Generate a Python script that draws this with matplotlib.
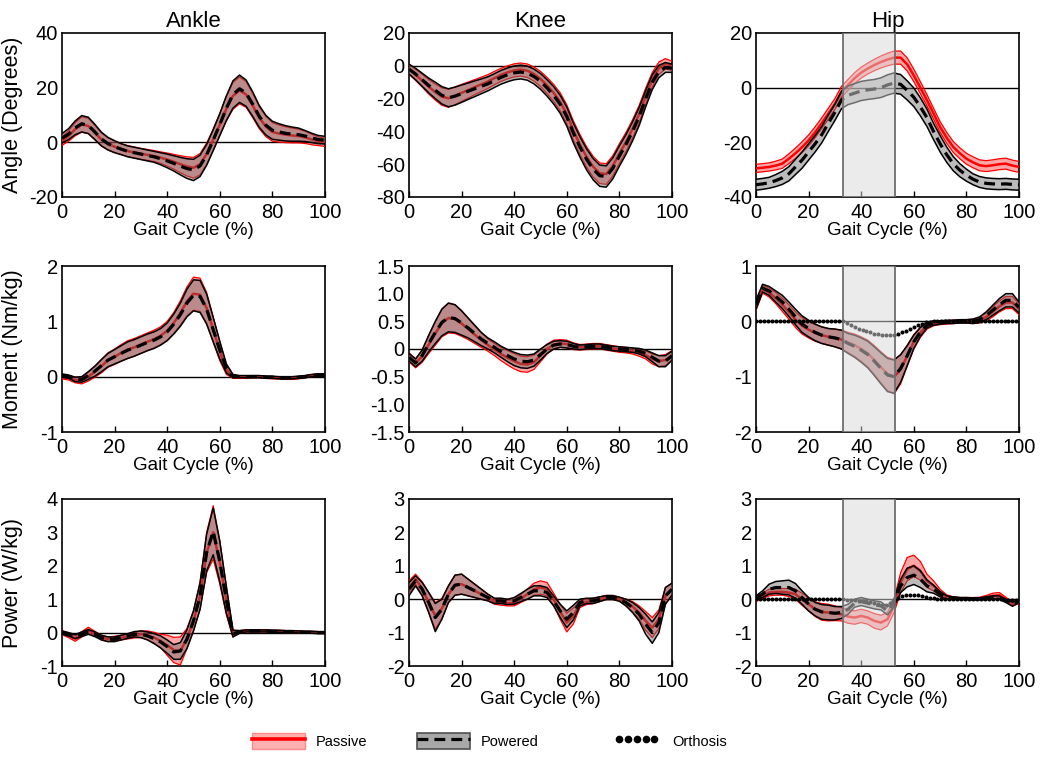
import numpy as np
import matplotlib
matplotlib.use("Agg")
import matplotlib.pyplot as plt
from matplotlib.patches import Patch
from matplotlib.lines import Line2D
from matplotlib.legend_handler import HandlerTuple

plt.rcParams['font.family'] = ['Liberation Sans', 'DejaVu Sans']

# ---------------- data ----------------
GAIT = np.linspace(0, 100, 41)          # % gait cycle, 2.5 % steps
ORTH_GAIT = np.linspace(0, 99, 67)      # orthosis samples, 1.5 % steps

joints = ["Ankle", "Knee", "Hip"]
row_labels = ["Angle (Degrees)", "Moment (Nm/kg)", "Power (W/kg)"]

# ----- Ankle angle -----
ankle_angle_pow_mean = [1.5, 3.0, 5.3, 6.8, 6.2, 3.8, 1.2, -0.5, -1.6, -2.5, -3.3, -3.8, -4.3, -4.8, -5.3, -6.0, -6.8, -7.7, -8.7, -9.6, -10.1, -8.6, -4.6, 0.8, 6.5, 12.5, 17.5, 19.6, 18.0, 14.0, 9.5, 6.3, 4.4, 3.8, 3.3, 3.0, 2.8, 2.3, 1.6, 1.0, 0.8]
ankle_angle_pow_sd = [1.7, 2.0, 2.5, 3.0, 3.0, 2.8, 2.5, 2.3, 2.2, 2.0, 2.0, 2.0, 2.0, 2.0, 2.0, 2.2, 2.5, 2.8, 3.2, 3.6, 3.9, 3.9, 3.8, 3.8, 4.0, 4.5, 5.0, 5.0, 4.8, 4.5, 4.0, 3.6, 3.3, 3.0, 2.8, 2.6, 2.4, 2.0, 1.7, 1.5, 1.4]
ankle_angle_pas_mean = [0.5, 2.3, 4.8, 6.5, 6.0, 3.6, 1.0, -0.6, -1.6, -2.5, -3.2, -3.7, -4.2, -4.6, -5.0, -5.6, -6.3, -7.1, -8.0, -8.8, -9.3, -8.0, -4.2, 1.0, 6.5, 12.3, 17.0, 19.0, 17.5, 13.5, 9.0, 5.8, 3.8, 3.2, 2.8, 2.5, 2.3, 1.8, 1.0, 0.4, 0.0]
ankle_angle_pas_sd = [1.6, 1.9, 2.4, 2.8, 2.8, 2.6, 2.4, 2.2, 2.1, 2.0, 2.0, 2.0, 2.0, 2.0, 2.0, 2.1, 2.4, 2.7, 3.1, 3.5, 3.8, 3.9, 3.9, 3.9, 4.0, 4.5, 4.9, 4.9, 4.7, 4.4, 4.0, 3.7, 3.4, 3.1, 2.9, 2.7, 2.5, 2.2, 1.9, 1.6, 1.5]

# ----- Knee angle -----
knee_angle_pow_mean = [-2.0, -5.0, -8.5, -12.0, -15.0, -18.0, -19.5, -18.5, -17.0, -15.5, -14.0, -12.5, -11.0, -9.0, -7.0, -5.5, -4.3, -3.8, -4.5, -6.5, -9.5, -13.5, -18.0, -23.5, -31.0, -41.0, -49.5, -57.0, -63.0, -67.0, -67.5, -62.5, -55.0, -48.0, -40.0, -31.0, -20.0, -10.0, -3.5, -1.0, -1.5]
knee_angle_pow_sd = [3.0, 3.5, 4.0, 4.5, 5.0, 5.3, 5.5, 5.5, 5.3, 5.0, 4.8, 4.5, 4.3, 4.2, 4.2, 4.2, 4.2, 4.2, 4.3, 4.5, 4.8, 5.0, 5.3, 5.5, 5.8, 6.0, 6.2, 6.4, 6.5, 6.5, 6.5, 6.4, 6.2, 6.0, 5.8, 5.5, 5.0, 4.5, 3.8, 3.0, 2.5]
knee_angle_pas_mean = [-2.0, -5.5, -9.0, -12.8, -16.0, -18.8, -19.8, -18.3, -16.5, -14.8, -13.0, -11.3, -9.6, -7.5, -5.5, -4.0, -2.8, -2.3, -3.0, -5.0, -8.0, -12.0, -16.5, -22.0, -29.5, -39.5, -48.0, -55.5, -61.5, -65.5, -66.0, -61.0, -53.5, -46.5, -38.5, -29.5, -18.5, -8.5, -1.5, 1.2, 0.0]
knee_angle_pas_sd = [3.0, 3.4, 3.9, 4.4, 4.9, 5.3, 5.5, 5.4, 5.2, 4.9, 4.6, 4.4, 4.2, 4.1, 4.0, 4.0, 4.0, 4.0, 4.1, 4.3, 4.6, 4.9, 5.2, 5.5, 5.7, 5.9, 6.1, 6.2, 6.3, 6.3, 6.3, 6.2, 6.0, 5.8, 5.6, 5.3, 4.9, 4.4, 3.8, 3.2, 2.8]

# ----- Hip angle -----
hip_angle_pow_mean = [-35.5, -35.2, -34.8, -34.0, -33.0, -31.5, -29.0, -26.5, -23.5, -20.5, -17.2, -13.0, -9.0, -4.5, -2.8, -2.0, -1.2, -0.8, -0.5, 0.0, 1.0, 1.7, 1.2, -1.0, -3.5, -7.0, -11.0, -16.0, -20.5, -24.5, -27.8, -30.2, -32.0, -33.5, -34.5, -35.0, -35.2, -35.3, -35.2, -35.4, -35.5]
hip_angle_pow_sd = [2.0, 2.0, 2.0, 2.2, 2.4, 2.6, 2.8, 3.0, 3.0, 3.0, 3.0, 3.0, 3.0, 3.2, 3.4, 3.5, 3.5, 3.5, 3.5, 3.6, 3.7, 3.7, 3.6, 3.5, 3.4, 3.3, 3.2, 3.0, 3.0, 2.8, 2.6, 2.4, 2.2, 2.0, 2.0, 2.0, 2.0, 2.0, 2.0, 2.0, 2.0]
hip_angle_pas_mean = [-29.5, -29.3, -29.0, -28.5, -27.8, -26.0, -24.0, -21.8, -19.3, -16.3, -13.0, -9.5, -6.0, -1.5, 1.0, 3.5, 5.5, 7.0, 8.3, 9.4, 10.3, 11.0, 11.0, 8.5, 4.5, 0.0, -4.6, -9.5, -14.4, -18.3, -21.7, -24.0, -26.0, -27.3, -28.4, -28.7, -28.4, -28.0, -27.8, -28.5, -29.0]
hip_angle_pas_sd = [1.5, 1.5, 1.5, 1.6, 1.7, 1.8, 1.9, 2.0, 2.0, 2.0, 2.0, 2.0, 2.0, 2.0, 2.0, 2.0, 2.0, 2.0, 2.1, 2.2, 2.3, 2.4, 2.4, 2.4, 2.3, 2.2, 2.1, 2.0, 2.0, 2.0, 2.0, 2.0, 2.0, 2.0, 2.0, 2.0, 2.0, 2.0, 2.0, 2.0, 2.0]

# ----- Ankle moment -----
ankle_mom_pow_mean = [0.02, 0.0, -0.05, -0.05, 0.02, 0.1, 0.2, 0.3, 0.36, 0.42, 0.48, 0.52, 0.57, 0.62, 0.66, 0.72, 0.81, 0.95, 1.12, 1.33, 1.47, 1.45, 1.22, 0.85, 0.48, 0.15, 0.01, 0.0, 0.0, 0.0, 0.0, -0.01, -0.01, -0.02, -0.02, -0.02, -0.01, 0.0, 0.02, 0.03, 0.03]
ankle_mom_pow_sd = [0.03, 0.03, 0.04, 0.05, 0.07, 0.09, 0.11, 0.12, 0.13, 0.14, 0.15, 0.15, 0.15, 0.15, 0.15, 0.15, 0.16, 0.18, 0.21, 0.25, 0.28, 0.29, 0.27, 0.22, 0.16, 0.08, 0.03, 0.02, 0.02, 0.02, 0.02, 0.02, 0.02, 0.02, 0.02, 0.02, 0.02, 0.02, 0.02, 0.02, 0.02]
ankle_mom_pas_mean = [0.0, -0.02, -0.06, -0.07, 0.0, 0.09, 0.19, 0.3, 0.36, 0.43, 0.49, 0.53, 0.58, 0.63, 0.68, 0.74, 0.83, 0.97, 1.15, 1.36, 1.5, 1.48, 1.24, 0.85, 0.46, 0.13, 0.0, -0.01, -0.01, 0.0, 0.0, -0.01, -0.02, -0.02, -0.03, -0.03, -0.02, 0.0, 0.02, 0.03, 0.03]
ankle_mom_pas_sd = [0.04, 0.04, 0.05, 0.06, 0.08, 0.1, 0.12, 0.13, 0.14, 0.15, 0.16, 0.16, 0.16, 0.16, 0.16, 0.16, 0.17, 0.19, 0.22, 0.26, 0.3, 0.3, 0.28, 0.23, 0.17, 0.09, 0.03, 0.02, 0.02, 0.02, 0.02, 0.02, 0.02, 0.02, 0.02, 0.02, 0.02, 0.02, 0.02, 0.02, 0.02]

# ----- Knee moment -----
knee_mom_pow_mean = [-0.15, -0.25, -0.12, 0.1, 0.3, 0.48, 0.57, 0.55, 0.47, 0.38, 0.28, 0.18, 0.1, 0.03, -0.05, -0.12, -0.18, -0.22, -0.23, -0.2, -0.1, 0.0, 0.07, 0.09, 0.08, 0.05, 0.03, 0.04, 0.05, 0.05, 0.03, 0.01, 0.0, -0.01, -0.02, -0.04, -0.08, -0.15, -0.22, -0.22, -0.12]
knee_mom_pow_sd = [0.07, 0.07, 0.1, 0.15, 0.2, 0.24, 0.26, 0.25, 0.22, 0.18, 0.15, 0.12, 0.1, 0.1, 0.1, 0.11, 0.12, 0.12, 0.12, 0.11, 0.1, 0.08, 0.07, 0.06, 0.06, 0.05, 0.04, 0.04, 0.04, 0.04, 0.04, 0.04, 0.04, 0.04, 0.04, 0.05, 0.06, 0.08, 0.1, 0.1, 0.08]
knee_mom_pas_mean = [-0.15, -0.26, -0.13, 0.08, 0.28, 0.47, 0.56, 0.54, 0.46, 0.36, 0.26, 0.16, 0.07, -0.01, -0.09, -0.16, -0.22, -0.27, -0.28, -0.24, -0.12, 0.0, 0.08, 0.1, 0.09, 0.05, 0.03, 0.04, 0.05, 0.05, 0.03, 0.01, -0.01, -0.02, -0.04, -0.07, -0.11, -0.18, -0.22, -0.2, -0.12]
knee_mom_pas_sd = [0.08, 0.08, 0.11, 0.16, 0.21, 0.25, 0.27, 0.26, 0.23, 0.19, 0.16, 0.13, 0.11, 0.11, 0.12, 0.13, 0.14, 0.14, 0.14, 0.13, 0.11, 0.09, 0.08, 0.07, 0.07, 0.06, 0.05, 0.05, 0.05, 0.05, 0.05, 0.05, 0.05, 0.05, 0.05, 0.06, 0.07, 0.09, 0.1, 0.1, 0.09]

# ----- Hip moment -----
hip_mom_pow_mean = [0.3, 0.6, 0.55, 0.45, 0.35, 0.22, 0.08, -0.05, -0.13, -0.2, -0.25, -0.28, -0.3, -0.33, -0.4, -0.45, -0.52, -0.6, -0.72, -0.85, -0.97, -1.0, -0.85, -0.62, -0.37, -0.19, -0.07, -0.03, -0.02, -0.01, -0.01, 0.0, 0.0, 0.0, 0.03, 0.1, 0.2, 0.3, 0.38, 0.38, 0.25]
hip_mom_pow_sd = [0.08, 0.07, 0.08, 0.1, 0.12, 0.13, 0.14, 0.15, 0.15, 0.15, 0.15, 0.15, 0.16, 0.17, 0.18, 0.2, 0.22, 0.24, 0.26, 0.28, 0.3, 0.3, 0.25, 0.18, 0.12, 0.08, 0.05, 0.04, 0.03, 0.03, 0.03, 0.03, 0.03, 0.04, 0.05, 0.07, 0.09, 0.11, 0.12, 0.12, 0.1]
hip_mom_pas_mean = [0.28, 0.58, 0.52, 0.42, 0.3, 0.17, 0.03, -0.08, -0.15, -0.21, -0.25, -0.28, -0.3, -0.33, -0.38, -0.43, -0.5, -0.58, -0.7, -0.83, -0.95, -1.0, -0.87, -0.62, -0.37, -0.2, -0.08, -0.04, -0.03, -0.02, -0.01, 0.0, 0.0, 0.0, 0.02, 0.08, 0.17, 0.27, 0.34, 0.34, 0.22]
hip_mom_pas_sd = [0.08, 0.07, 0.08, 0.1, 0.12, 0.13, 0.14, 0.15, 0.15, 0.15, 0.15, 0.15, 0.16, 0.17, 0.18, 0.2, 0.22, 0.24, 0.26, 0.28, 0.3, 0.31, 0.26, 0.19, 0.13, 0.09, 0.06, 0.04, 0.03, 0.03, 0.03, 0.03, 0.03, 0.04, 0.05, 0.07, 0.09, 0.1, 0.11, 0.11, 0.1]
hip_mom_orthosis = [0, 0, 0, 0, 0, 0, 0, 0, 0, 0, 0, 0, 0, 0, 0, 0, 0, 0, 0, 0, 0, 0, 0,
                    -0.03, -0.07, -0.1, -0.13, -0.16, -0.18, -0.2, -0.22, -0.23, -0.24, -0.25,
                    -0.25, -0.25, -0.23, -0.2, -0.17, -0.13, -0.1, -0.07, -0.04, -0.02, -0.01,
                    0, 0, 0, 0, 0, 0, 0, 0, 0, 0, 0, 0, 0, 0, 0, 0, 0, 0, 0, 0, 0, 0]

# ----- Ankle power -----
ankle_pow_pow_mean = [0.0, -0.05, -0.12, -0.05, 0.02, -0.05, -0.15, -0.2, -0.2, -0.15, -0.1, -0.05, -0.05, -0.1, -0.18, -0.28, -0.42, -0.58, -0.55, -0.2, 0.35, 1.1, 2.4, 3.03, 2.13, 0.98, -0.03, 0.02, 0.05, 0.05, 0.05, 0.05, 0.04, 0.04, 0.03, 0.03, 0.02, 0.01, 0.01, 0.0, 0.0]
ankle_pow_pow_sd = [0.05, 0.05, 0.06, 0.07, 0.07, 0.07, 0.07, 0.07, 0.07, 0.07, 0.07, 0.08, 0.1, 0.12, 0.15, 0.18, 0.2, 0.22, 0.25, 0.28, 0.3, 0.4, 0.55, 0.7, 0.6, 0.4, 0.1, 0.04, 0.03, 0.03, 0.03, 0.03, 0.03, 0.03, 0.03, 0.03, 0.03, 0.03, 0.03, 0.03, 0.03]
ankle_pow_pas_mean = [0.0, -0.08, -0.18, -0.05, 0.08, -0.03, -0.15, -0.2, -0.18, -0.15, -0.12, -0.08, -0.05, -0.08, -0.15, -0.25, -0.38, -0.52, -0.55, -0.18, 0.35, 1.1, 2.4, 3.0, 2.1, 0.95, -0.03, 0.02, 0.05, 0.05, 0.05, 0.05, 0.04, 0.04, 0.03, 0.03, 0.02, 0.01, 0.01, 0.0, 0.0]
ankle_pow_pas_sd = [0.06, 0.07, 0.08, 0.08, 0.08, 0.07, 0.07, 0.07, 0.07, 0.07, 0.07, 0.08, 0.1, 0.13, 0.16, 0.2, 0.3, 0.38, 0.42, 0.3, 0.3, 0.4, 0.6, 0.8, 0.65, 0.42, 0.1, 0.04, 0.03, 0.03, 0.03, 0.03, 0.03, 0.03, 0.03, 0.03, 0.03, 0.03, 0.03, 0.03, 0.03]

# ----- Knee power -----
knee_pow_pow_mean = [0.3, 0.55, 0.3, -0.1, -0.55, -0.3, 0.15, 0.42, 0.45, 0.35, 0.25, 0.15, 0.05, -0.05, -0.05, -0.08, -0.05, 0.05, 0.15, 0.25, 0.25, 0.2, -0.05, -0.35, -0.6, -0.4, -0.1, -0.05, -0.05, 0.0, 0.05, 0.05, 0.0, -0.1, -0.25, -0.45, -0.75, -1.0, -0.7, 0.1, 0.3]
knee_pow_pow_sd = [0.2, 0.15, 0.2, 0.3, 0.42, 0.3, 0.25, 0.3, 0.3, 0.25, 0.2, 0.15, 0.1, 0.08, 0.08, 0.08, 0.1, 0.12, 0.15, 0.15, 0.15, 0.15, 0.15, 0.2, 0.25, 0.22, 0.1, 0.08, 0.08, 0.07, 0.06, 0.06, 0.06, 0.1, 0.15, 0.2, 0.3, 0.32, 0.3, 0.25, 0.18]
knee_pow_pas_mean = [0.35, 0.6, 0.32, -0.1, -0.5, -0.28, 0.15, 0.42, 0.45, 0.35, 0.25, 0.15, 0.05, -0.07, -0.1, -0.12, -0.1, 0.02, 0.15, 0.3, 0.35, 0.3, 0.0, -0.38, -0.7, -0.5, -0.15, -0.08, -0.05, 0.0, 0.05, 0.05, 0.0, -0.1, -0.22, -0.4, -0.65, -0.85, -0.6, 0.1, 0.3]
knee_pow_pas_sd = [0.2, 0.15, 0.2, 0.3, 0.4, 0.3, 0.25, 0.3, 0.3, 0.25, 0.2, 0.15, 0.1, 0.08, 0.08, 0.08, 0.1, 0.12, 0.15, 0.18, 0.2, 0.2, 0.18, 0.22, 0.28, 0.24, 0.1, 0.08, 0.08, 0.07, 0.06, 0.06, 0.06, 0.1, 0.15, 0.2, 0.28, 0.3, 0.28, 0.25, 0.18]

# ----- Hip power -----
hip_pow_pow_mean = [0.05, 0.15, 0.3, 0.35, 0.35, 0.35, 0.25, 0.05, -0.15, -0.3, -0.38, -0.4, -0.42, -0.4, -0.3, -0.12, -0.07, -0.12, -0.17, -0.2, -0.35, -0.1, 0.4, 0.65, 0.72, 0.6, 0.4, 0.3, 0.15, 0.05, 0.03, 0.02, 0.02, 0.01, 0.01, 0.03, 0.05, 0.05, -0.05, -0.15, -0.05]
hip_pow_pow_sd = [0.05, 0.1, 0.15, 0.18, 0.2, 0.22, 0.22, 0.2, 0.2, 0.2, 0.22, 0.22, 0.2, 0.18, 0.15, 0.12, 0.12, 0.12, 0.12, 0.12, 0.12, 0.12, 0.2, 0.28, 0.28, 0.25, 0.18, 0.12, 0.08, 0.05, 0.04, 0.03, 0.03, 0.03, 0.03, 0.04, 0.05, 0.05, 0.05, 0.06, 0.05]
hip_pow_pas_mean = [-0.02, 0.1, 0.2, 0.22, 0.22, 0.2, 0.15, 0.0, -0.15, -0.3, -0.38, -0.4, -0.42, -0.45, -0.52, -0.55, -0.5, -0.55, -0.65, -0.7, -0.6, -0.2, 0.5, 0.9, 1.0, 0.85, 0.55, 0.4, 0.2, 0.08, 0.03, 0.02, 0.02, 0.02, 0.02, 0.05, 0.1, 0.12, 0.0, -0.15, -0.08]
hip_pow_pas_sd = [0.05, 0.08, 0.1, 0.1, 0.1, 0.12, 0.15, 0.18, 0.2, 0.22, 0.25, 0.25, 0.22, 0.2, 0.2, 0.2, 0.2, 0.2, 0.22, 0.22, 0.2, 0.2, 0.3, 0.35, 0.32, 0.28, 0.2, 0.15, 0.1, 0.05, 0.04, 0.03, 0.03, 0.03, 0.04, 0.06, 0.08, 0.08, 0.06, 0.06, 0.05]
hip_pow_orthosis = [0, 0, 0, 0, 0, 0, 0, 0, 0, 0, 0, 0, 0, 0, 0, 0, 0, 0, 0, 0, 0, 0, 0,
                    -0.01, -0.02, -0.03, -0.04, -0.05, -0.06, -0.08, -0.1, -0.13, -0.16, -0.17,
                    -0.12, -0.05, 0.05, 0.1, 0.12, 0.13, 0.13, 0.12, 0.1, 0.07, 0.05, 0.03,
                    0.02, 0.01,
                    0, 0, 0, 0, 0, 0, 0, 0, 0, 0, 0, 0, 0, 0, 0,
                    -0.02, -0.03, -0.03, -0.02]

# axis settings per row / column
ylims = [[(-20, 40), (-80, 20), (-40, 20)],
         [(-1, 2), (-1.5, 1.5), (-2, 1)],
         [(-1, 4), (-2, 3), (-2, 3)]]
yticks = [[[-20, 0, 20, 40], [-80, -60, -40, -20, 0, 20], [-40, -20, 0, 20]],
          [[-1, 0, 1, 2], [-1.5, -1.0, -0.5, 0, 0.5, 1.0, 1.5], [-2, -1, 0, 1]],
          [[-1, 0, 1, 2, 3, 4], [-2, -1, 0, 1, 2, 3], [-2, -1, 0, 1, 2, 3]]]
knee_mom_ticklabels = ["-1.5", "-1.0", "-0.5", "0", "0.5", "1.0", "1.5"]
xticks = [0, 20, 40, 60, 80, 100]
support_window = (33, 53)   # shaded orthosis-actuation window in % gait

panels = [
    [(ankle_angle_pas_mean, ankle_angle_pas_sd, ankle_angle_pow_mean, ankle_angle_pow_sd, None),
     (knee_angle_pas_mean, knee_angle_pas_sd, knee_angle_pow_mean, knee_angle_pow_sd, None),
     (hip_angle_pas_mean, hip_angle_pas_sd, hip_angle_pow_mean, hip_angle_pow_sd, None)],
    [(ankle_mom_pas_mean, ankle_mom_pas_sd, ankle_mom_pow_mean, ankle_mom_pow_sd, None),
     (knee_mom_pas_mean, knee_mom_pas_sd, knee_mom_pow_mean, knee_mom_pow_sd, None),
     (hip_mom_pas_mean, hip_mom_pas_sd, hip_mom_pow_mean, hip_mom_pow_sd, hip_mom_orthosis)],
    [(ankle_pow_pas_mean, ankle_pow_pas_sd, ankle_pow_pow_mean, ankle_pow_pow_sd, None),
     (knee_pow_pas_mean, knee_pow_pas_sd, knee_pow_pow_mean, knee_pow_pow_sd, None),
     (hip_pow_pas_mean, hip_pow_pas_sd, hip_pow_pow_mean, hip_pow_pow_sd, hip_pow_orthosis)],
]

# ---------------- figure ----------------
W, H = 1050, 763
fig = plt.figure(figsize=(W / 100, H / 100), dpi=100)

col_left = [62, 409, 756]
ax_w = 263
row_top = [33, 266, 499]
row_bot = [197, 432, 666]

DASH = (0, (3.4, 1.9))
PAS_RED = '#ff0000'
POW_GREY = '#6a6a6a'

for r in range(3):
    for c in range(3):
        ax = fig.add_axes([col_left[c] / W, 1 - row_bot[r] / H, ax_w / W, (row_bot[r] - row_top[r]) / H])
        pm, ps, wm, ws, orth = panels[r][c]
        pm, ps, wm, ws = map(np.asarray, (pm, ps, wm, ws))

        ax.axhline(0, color='black', lw=1.0, zorder=1)

        # passive
        ax.fill_between(GAIT, pm - ps, pm + ps, facecolor=PAS_RED, alpha=0.35, lw=0, zorder=2)
        ax.plot(GAIT, pm - ps, color=PAS_RED, lw=0.9, zorder=3)
        ax.plot(GAIT, pm + ps, color=PAS_RED, lw=0.9, zorder=3)
        ax.plot(GAIT, pm, color=PAS_RED, lw=1.8, zorder=3)

        # powered
        ax.fill_between(GAIT, wm - ws, wm + ws, facecolor=POW_GREY, alpha=0.45, lw=0, zorder=4)
        ax.plot(GAIT, wm - ws, color='black', lw=1.1, zorder=5)
        ax.plot(GAIT, wm + ws, color='black', lw=1.1, zorder=5)
        ax.plot(GAIT, wm, color='black', lw=2.3, ls=DASH, zorder=6)

        if orth is not None:
            ax.plot(ORTH_GAIT, orth, ls='none', marker='o', ms=2.9, color='black',
                    markeredgewidth=0, zorder=7)

        if c == 2:
            ax.axvspan(*support_window, facecolor='#d9d9d9', alpha=0.5, lw=0, zorder=8)
            for xv in support_window:
                ax.axvline(xv, color='#6e6e6e', lw=1.3, zorder=9)

        ax.set_xlim(0, 100)
        ax.set_ylim(*ylims[r][c])
        ax.set_xticks(xticks)
        ax.set_yticks(yticks[r][c])
        if r == 1 and c == 1:
            ax.set_yticklabels(knee_mom_ticklabels)
        else:
            ax.set_yticklabels([f"{v:g}" for v in yticks[r][c]])
        ax.tick_params(axis='x', direction='in', length=4, width=1, labelsize=14.5, pad=4)
        ax.tick_params(axis='y', length=0, labelsize=14.5, pad=3)
        for s in ax.spines.values():
            s.set_linewidth(1.2)
            s.set_color('black')
        ax.set_xlabel("Gait Cycle (%)", fontsize=13.5, labelpad=0)
        if c == 0:
            ax.set_ylabel(row_labels[r], fontsize=15.5)
            ax.yaxis.set_label_coords(-0.148, 0.5)
        if r == 0:
            ax.set_title(joints[c], fontsize=16, pad=4)

# ---------------- legend ----------------
leg_y = 1 - 741 / H
passive_h = (Patch(facecolor='#ffb0b0', edgecolor='#ff8a8a', lw=1.0),
             Line2D([], [], color=PAS_RED, lw=2.6))
powered_h = (Patch(facecolor='#a8a8a8', edgecolor='#505050', lw=1.2),
             Line2D([], [], color='black', lw=2.3, ls=DASH))
orth_h = Line2D([], [], ls='none', marker='o', color='black', ms=5.5, markeredgewidth=0)

common = dict(loc='center left', frameon=False, borderpad=0, borderaxespad=0,
              fontsize=10.5, handleheight=1.3)
fig.legend([passive_h], ['Passive'], bbox_to_anchor=(252 / W, leg_y),
           handler_map={tuple: HandlerTuple(ndivide=1, pad=0)},
           handlelength=3.6, handletextpad=0.8, **common)
fig.legend([powered_h], ['Powered'], bbox_to_anchor=(417 / W, leg_y),
           handler_map={tuple: HandlerTuple(ndivide=1, pad=0)},
           handlelength=3.6, handletextpad=0.8, **common)
fig.legend([orth_h], ['Orthosis'], bbox_to_anchor=(615 / W, leg_y),
           numpoints=5, handlelength=3.0, handletextpad=0.9, **common)

fig.savefig("out.png", dpi=100)
